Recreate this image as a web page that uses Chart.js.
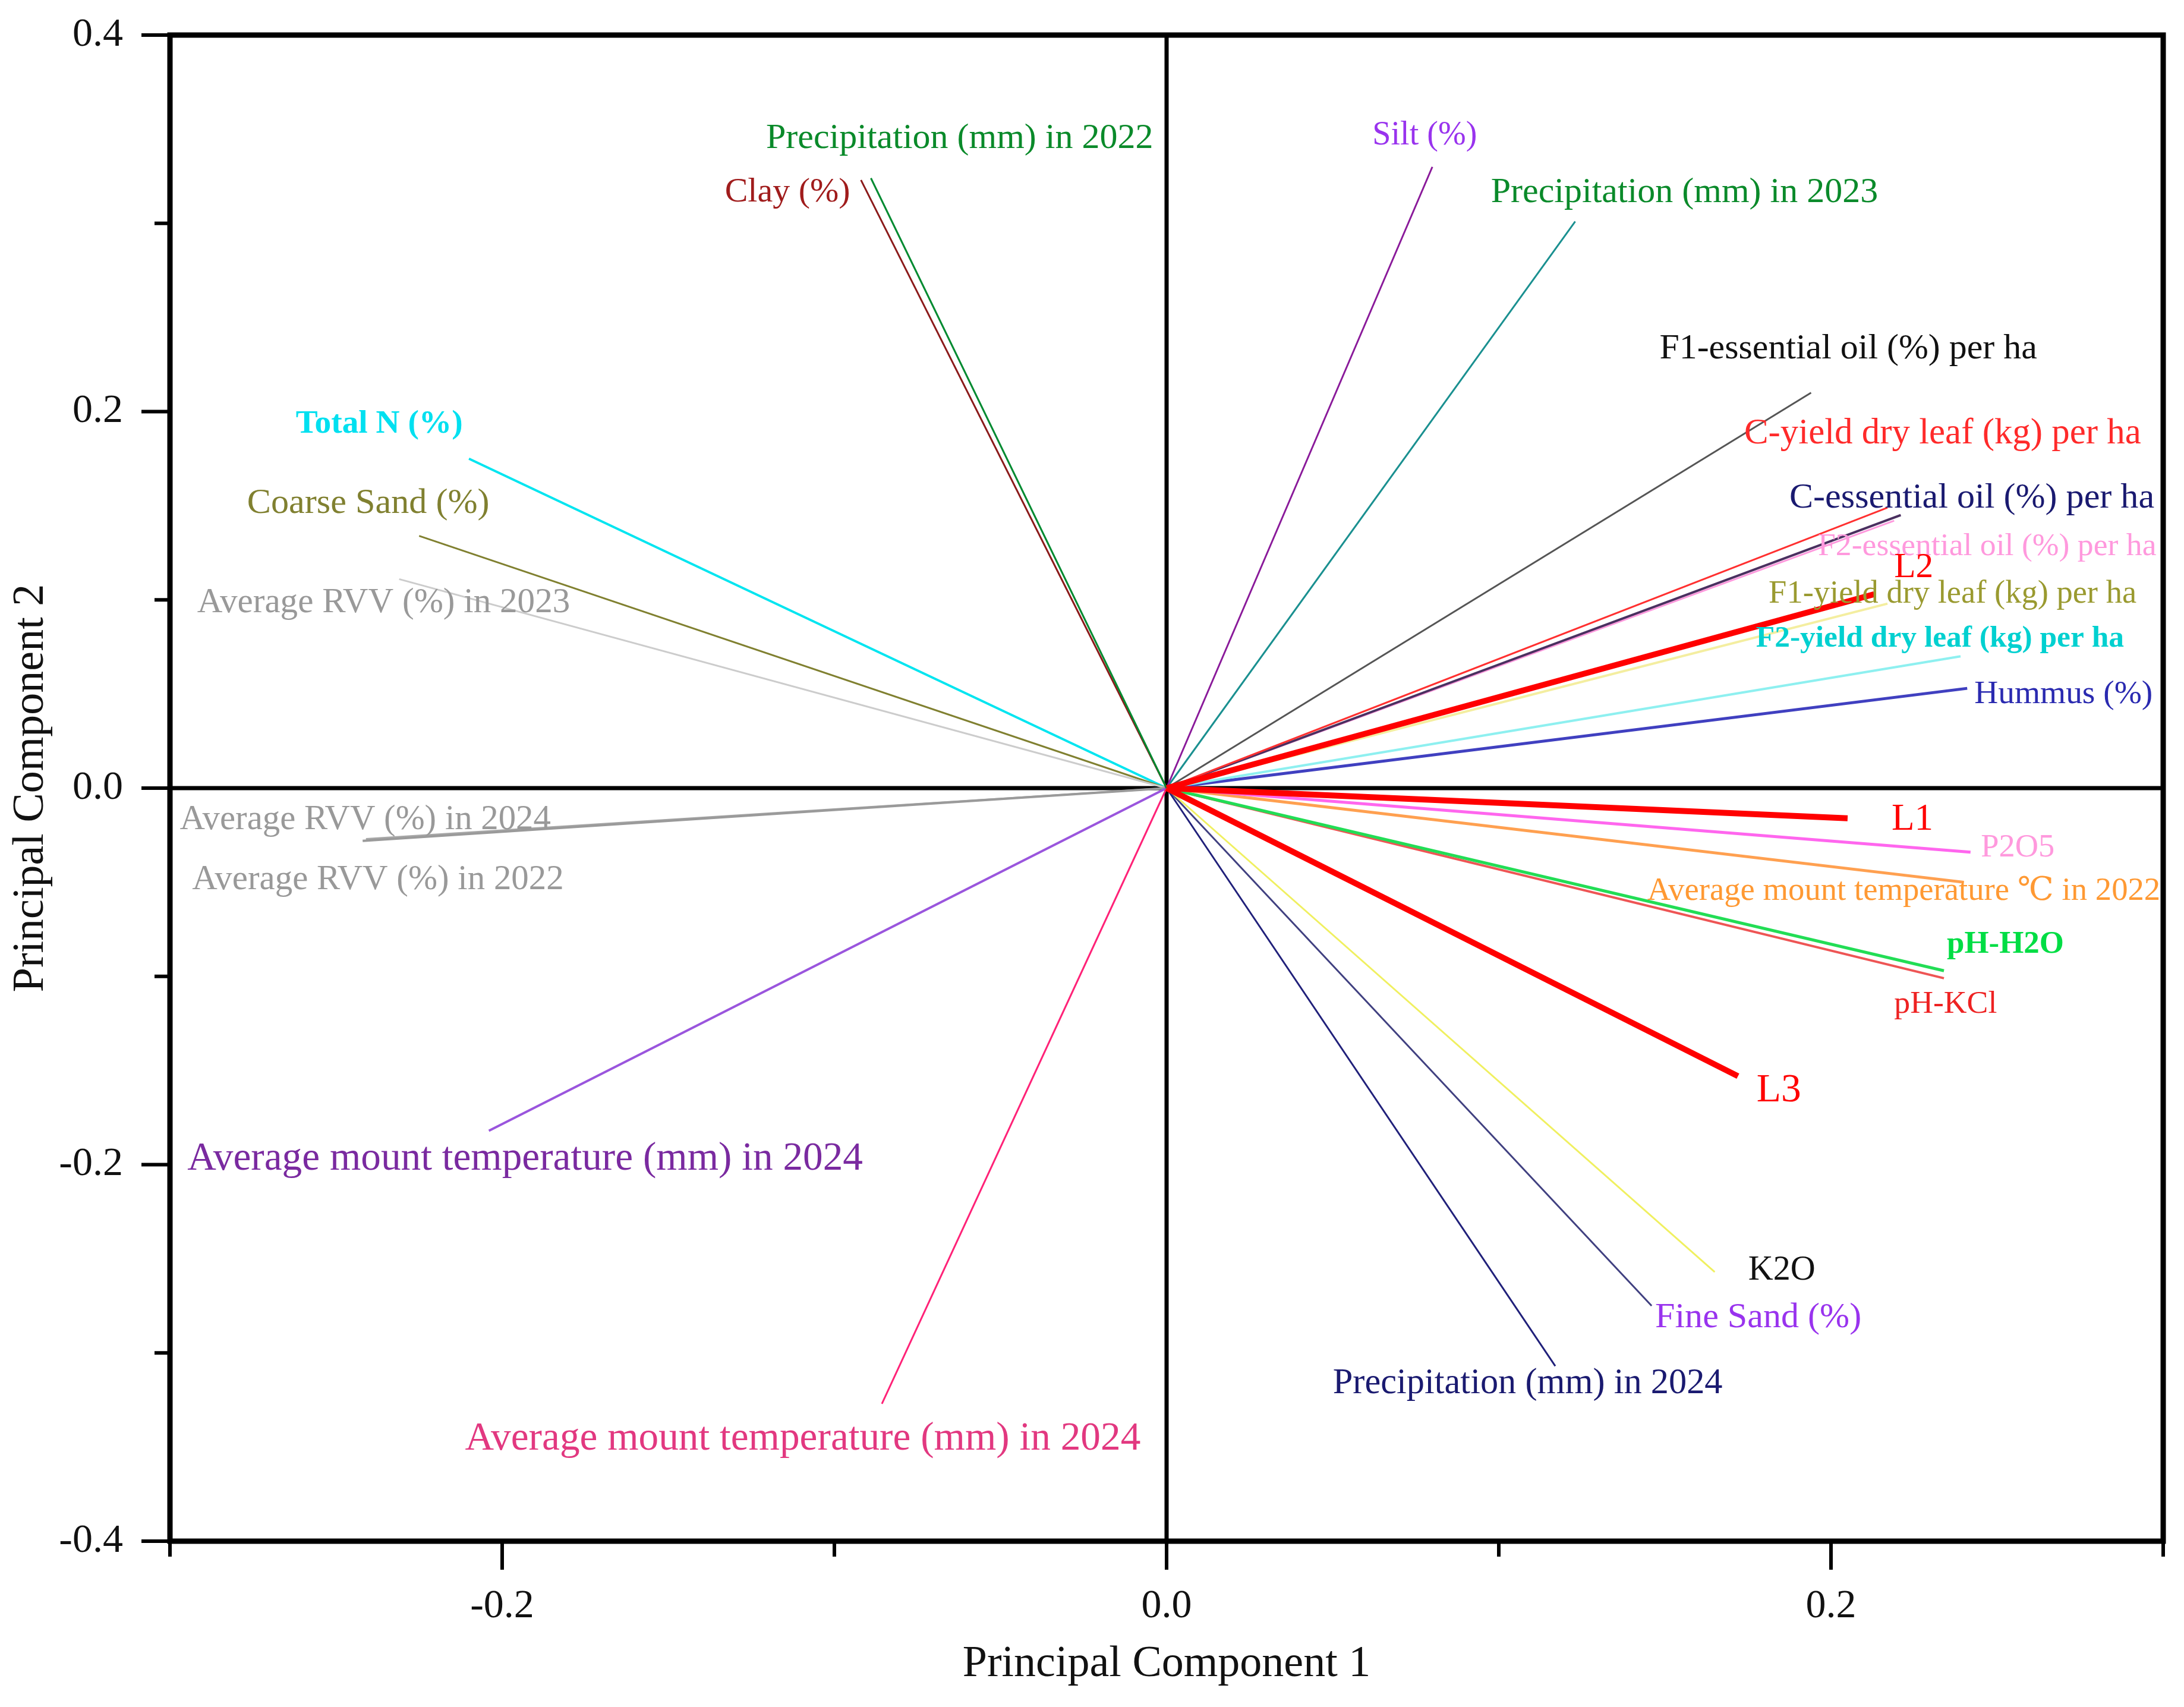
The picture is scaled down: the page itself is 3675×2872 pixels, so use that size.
<!DOCTYPE html>
<html><head><meta charset="utf-8">
<script src="https://cdn.jsdelivr.net/npm/chart.js@4.4.1/dist/chart.umd.min.js"></script>
<style>html,body{margin:0;padding:0;background:#fff;}canvas{display:block;}</style>
</head><body>
<canvas id="c" width="3675" height="2872" style="width:3675px;height:2872px"></canvas>
<script>
// ---------- DATA ----------
const variables = [
  'Precipitation (mm) in 2022', 'Clay (%)', 'Silt (%)', 'Precipitation (mm) in 2023',
  'F1-essential oil (%) per ha', 'C-yield dry leaf (kg) per ha', 'C-essential oil (%) per ha',
  'F2-essential oil (%) per ha', 'L2', 'F1-yield dry leaf (kg) per ha', 'F2-yield dry leaf (kg) per ha',
  'Hummus (%)', 'L1', 'P2O5', 'Average mount temperature \u2103 in 2022', 'pH-H2O', 'pH-KCl', 'L3',
  'K2O', 'Fine Sand (%)', 'Precipitation (mm) in 2024', 'Average mount temperature (mm) in 2024',
  'Average mount temperature (mm) in 2024', 'Average RVV (%) in 2024', 'Average RVV (%) in 2022',
  'Average RVV (%) in 2023', 'Coarse Sand (%)', 'Total N (%)'
];
const pc1 = [-0.089, -0.092, 0.080, 0.123, 0.194, 0.217, 0.221, 0.219, 0.213, 0.217, 0.239,
  0.241, 0.205, 0.242, 0.240, 0.234, 0.234, 0.172, 0.165, 0.146, 0.117, -0.0857,
  -0.204, -0.242, -0.241, -0.231, -0.225, -0.210];
const pc2 = [0.324, 0.323, 0.330, 0.301, 0.210, 0.149, 0.145, 0.142, 0.103, 0.098, 0.070,
  0.053, -0.016, -0.034, -0.050, -0.097, -0.101, -0.153, -0.257, -0.275, -0.307, -0.327,
  -0.182, -0.028, -0.027, 0.111, 0.134, 0.175];
// label anchor (centre of text) in PC units
const labelPc1 = [-0.0623, -0.1141, 0.0777, 0.1559, 0.2052, 0.2336, 0.2424, 0.2470, 0.2249, 0.2366, 0.2328,
  0.2700, 0.2245, 0.2562, 0.2219, 0.2525, 0.2345, 0.1843, 0.1852, 0.1781, 0.1087, -0.1095,
  -0.1931, -0.2412, -0.2374, -0.2357, -0.2403, -0.2370];
const labelPc2 = [0.345, 0.3163, 0.3467, 0.3163, 0.2333, 0.1881, 0.1541, 0.1281, 0.1170, 0.1030, 0.0793,
  0.0496, -0.0170, -0.0319, -0.0548, -0.0830, -0.1148, -0.1607, -0.2563, -0.2815, -0.3163, -0.3459,
  -0.1970, -0.0170, -0.0489, 0.0985, 0.1511, 0.1933];
const xTickValues = [-0.2, 0, 0.2];
const xTickLabels = ['-0.2', '0.0', '0.2'];
const yTickValues = [0.4, 0.2, 0, -0.2, -0.4];
const yTickLabels = ['0.4', '0.2', '0.0', '-0.2', '-0.4'];

// ---------- STYLES ----------
const lineColors = ['#008a30', '#8b1a1a', '#8a1a9a', '#1a9090', '#555555', '#ff3030', '#4a3060',
  '#ff99dd', '#ff0000', '#f4eea0', '#8ef0f0', '#4040c0', '#ff0000', '#ff66ee', '#ffa050', '#22dd55',
  '#ee5555', '#ff0000', '#f0f060', '#404080', '#20207a', '#ff2277', '#9a55dd', '#9a9a9a', '#a8a8a8',
  '#cccccc', '#808030', '#00e5f0'];
const lineWidths = [3, 3, 3, 3, 3, 3, 4, 3, 10, 4, 4, 5, 10, 5, 5, 5, 4, 10, 3, 3, 3, 3, 4, 4, 3, 3, 3, 4];
const textColors = ['#0a8a2a', '#a01c1c', '#9933ee', '#0a8a2a', '#111111', '#ff2a2a', '#1a1a70',
  '#ff99dd', '#ff0000', '#9a9a30', '#00d0d0', '#2a2ab0', '#ff0000', '#ff99dd', '#ff9933', '#00dd44',
  '#ee2222', '#ff0000', '#111111', '#9933ee', '#1a1a70', '#e23880', '#7a2aa0', '#999999', '#999999',
  '#999999', '#808030', '#00e0f0'];
const textBold = [0,0,0,0,0,0,0,0,0,0,1,0,0,0,0,1,0,0,0,0,0,0,0,0,0,0,0,1];
const textWidths = [652, 211, 176, 652, 635, 668, 614, 570, 66, 619, 619, 300, 70, 124, 863, 197, 173, 75,
  113, 347, 656, 1137, 1137, 624, 626, 628, 408, 281];
const FONT = '"Liberation Serif", "DejaVu Serif", serif';

// ---------- CHART ----------
const datasets = variables.map((name, i) => ({
  label: name,
  data: [{x: 0, y: 0}, {x: pc1[i], y: pc2[i]}],
  showLine: true,
  borderColor: lineColors[i],
  backgroundColor: lineColors[i],
  borderWidth: lineWidths[i],
  pointRadius: 0,
  order: /^L\d$/.test(name) ? 0 : 1
}));

function near(v, arr) { return arr.findIndex(a => Math.abs(a - v) < 1e-6); }
function noPad(s) { s.paddingTop = 0; s.paddingBottom = 0; s.paddingLeft = 0; s.paddingRight = 0; }

const decor = {
  id: 'decor',
  beforeDatasetsDraw(chart) {
    const {ctx, chartArea: a, scales: {x, y}} = chart;
    ctx.save();
    ctx.strokeStyle = '#000';
    ctx.lineWidth = 7;
    const x0 = x.getPixelForValue(0), y0 = y.getPixelForValue(0);
    ctx.beginPath();
    ctx.moveTo(x0, a.top); ctx.lineTo(x0, a.bottom);
    ctx.moveTo(a.left, y0); ctx.lineTo(a.right, y0);
    ctx.stroke();
    ctx.restore();
  },
  afterDatasetsDraw(chart) {
    const {ctx, chartArea: a, scales: {x, y}} = chart;
    ctx.save();
    // labels
    ctx.textAlign = 'center';
    ctx.textBaseline = 'middle';
    variables.forEach((t, i) => {
      const w = textBold[i] ? 'bold ' : '';
      ctx.font = w + '100px ' + FONT;
      const m = ctx.measureText(t).width;
      const size = 100 * textWidths[i] / m;
      ctx.font = w + size.toFixed(1) + 'px ' + FONT;
      ctx.fillStyle = textColors[i];
      ctx.fillText(t, x.getPixelForValue(labelPc1[i]), y.getPixelForValue(labelPc2[i]));
    });
    // frame
    ctx.strokeStyle = '#000';
    ctx.lineWidth = 9;
    ctx.strokeRect(a.left, a.top, a.right - a.left, a.bottom - a.top);
    // ticks
    ctx.lineWidth = 6;
    ctx.beginPath();
    x.ticks.forEach(tk => {
      const px = x.getPixelForValue(tk.value);
      const len = near(tk.value, xTickValues) >= 0 ? 48 : 26;
      ctx.moveTo(px, a.bottom); ctx.lineTo(px, a.bottom + len);
    });
    y.ticks.forEach(tk => {
      const py = y.getPixelForValue(tk.value);
      const len = near(tk.value, yTickValues) >= 0 ? 48 : 26;
      ctx.moveTo(a.left, py); ctx.lineTo(a.left - len, py);
    });
    ctx.stroke();
    ctx.restore();
  }
};

new Chart(document.getElementById('c'), {
  type: 'scatter',
  data: {datasets},
  options: {
    responsive: false,
    devicePixelRatio: 1,
    animation: false,
    layout: {padding: {left: 0, right: 35, top: 59, bottom: 0}},
    plugins: {legend: {display: false}, tooltip: {enabled: false}},
    scales: {
      x: {
        type: 'linear', min: -0.3, max: 0.3,
        grid: {display: false, drawTicks: false},
        border: {display: false},
        ticks: {
          stepSize: 0.1, padding: 69, color: '#111',
          font: {family: FONT, size: 68},
          callback: v => { const k = near(v, xTickValues); return k >= 0 ? xTickLabels[k] : ''; }
        },
        title: {display: true, text: 'Principal Component 1', color: '#111',
          font: {family: FONT, size: 74}, padding: {top: 0, bottom: 27}},
        afterFit: s => { s.height = 279; noPad(s); }
      },
      y: {
        type: 'linear', min: -0.4, max: 0.4,
        grid: {display: false, drawTicks: false},
        border: {display: false},
        ticks: {
          stepSize: 0.1, padding: 79, color: '#111',
          font: {family: FONT, size: 68},
          callback: v => { const k = near(v, yTickValues); return k >= 0 ? yTickLabels[k] : ''; }
        },
        title: {display: true, text: 'Principal Component 2', color: '#111',
          font: {family: FONT, size: 74}, padding: {top: 8, bottom: 0}},
        afterFit: s => { s.width = 286; noPad(s); }
      }
    }
  },
  plugins: [decor]
});
</script>
</body></html>
